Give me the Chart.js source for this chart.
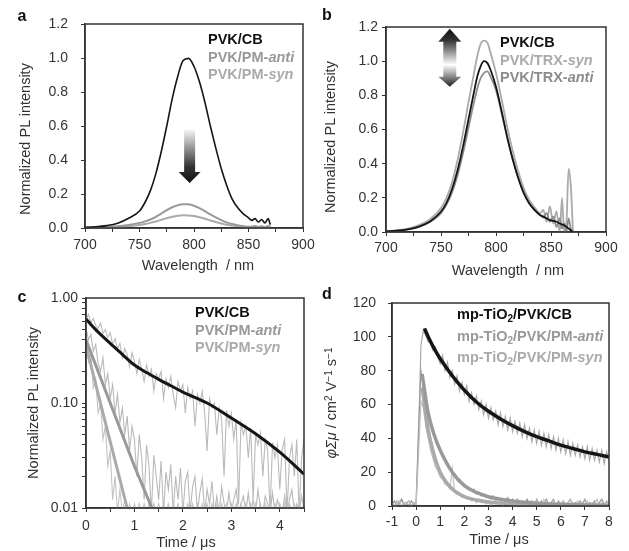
<!DOCTYPE html>
<html><head><meta charset="utf-8">
<script src="https://cdn.jsdelivr.net/npm/chart.js@4.4.1/dist/chart.umd.min.js"></script>
<style>
html,body{margin:0;padding:0;background:#fff;overflow:hidden;width:629px;height:551px;}
body{position:relative;font-family:"Liberation Sans",Arial,sans-serif;color:#333;}
.panel{position:absolute;}
.panel canvas{display:block;}
.lbl{position:absolute;font-weight:bold;font-size:16px;color:#111;transform:translate(-50%,-50%);}
.leg{position:absolute;font-weight:bold;font-size:14.5px;line-height:17.5px;white-space:nowrap;}
.ytitle{position:absolute;white-space:nowrap;font-size:14.5px;transform:translate(-50%,-50%) rotate(-90deg);}
.xtitle{position:absolute;white-space:nowrap;font-size:14.5px;transform:translate(-50%,-50%);}
.s{font-size:10px;vertical-align:4px;}
.u{font-size:10px;vertical-align:-3px;}
</style></head><body>
<div class="panel" style="left:0;top:0;width:315px;height:275px"><canvas id="ca" width="315" height="275"></canvas></div>
<div class="panel" style="left:315px;top:0;width:314px;height:280px"><canvas id="cb" width="314" height="280"></canvas></div>
<div class="panel" style="left:0;top:275px;width:315px;height:276px"><canvas id="cc" width="315" height="276"></canvas></div>
<div class="panel" style="left:315px;top:275px;width:314px;height:276px"><canvas id="cd" width="314" height="276"></canvas></div>

<div class="lbl" style="left:22px;top:16px">a</div>
<div class="lbl" style="left:327px;top:15px">b</div>
<div class="lbl" style="left:22px;top:297px">c</div>
<div class="lbl" style="left:327px;top:294px">d</div>

<div class="leg" style="left:208px;top:31px"><div style="color:#111">PVK/CB</div><div style="color:#999">PVK/PM-<i>anti</i></div><div style="color:#aaa">PVK/PM-<i>syn</i></div></div>
<div class="leg" style="left:500px;top:34px"><div style="color:#111">PVK/CB</div><div style="color:#aaa">PVK/TRX-<i>syn</i></div><div style="color:#8c8c8c">PVK/TRX-<i>anti</i></div></div>
<div class="leg" style="left:195px;top:304px"><div style="color:#111">PVK/CB</div><div style="color:#999">PVK/PM-<i>anti</i></div><div style="color:#aaa">PVK/PM-<i>syn</i></div></div>
<div class="leg" style="left:457px;top:306px"><div style="color:#111">mp-TiO<span class="u">2</span>/PVK/CB</div><div style="color:#999">mp-TiO<span class="u">2</span>/PVK/PM-<i>anti</i></div><div style="color:#aaa">mp-TiO<span class="u">2</span>/PVK/PM-<i>syn</i></div></div>

<div class="ytitle" style="left:25px;top:139px">Normalized PL intensity</div>
<div class="ytitle" style="left:330px;top:137px">Normalized PL intensity</div>
<div class="ytitle" style="left:33px;top:403px">Normalized PL intensity</div>
<div class="ytitle" style="left:331px;top:403px"><i>φΣμ</i> / cm<span class="s">2</span> V<span class="s">−1</span> s<span class="s">−1</span></div>
<div class="xtitle" style="left:198px;top:265px">Wavelength&nbsp; / nm</div>
<div class="xtitle" style="left:508px;top:270px">Wavelength&nbsp; / nm</div>
<div class="xtitle" style="left:186px;top:542px">Time / μs</div>
<div class="xtitle" style="left:499px;top:539px">Time / μs</div>

<script>
// ---------- Panel a : steady-state PL, PM ----------
const aWave = [700,710,720,730,740,750,755,760,765,770,775,780,785,790,795,800,805,810,815,820,825,830,835,840,845,850,853,856,859,862,865,868,870];
const aCB   = [0.004,0.007,0.014,0.028,0.057,0.10,0.15,0.22,0.32,0.45,0.60,0.76,0.89,0.985,0.998,0.95,0.86,0.74,0.60,0.47,0.35,0.25,0.17,0.12,0.085,0.06,0.045,0.055,0.035,0.05,0.03,0.055,0.02];
const aAnti = [0.003,0.004,0.006,0.010,0.018,0.030,0.039,0.050,0.066,0.085,0.105,0.122,0.134,0.140,0.139,0.131,0.117,0.099,0.080,0.062,0.046,0.033,0.023,0.016,0.011,0.008,0.007,0.012,0.006,0.010,0.005,0.012,0.008];
const aSyn  = [0.002,0.003,0.004,0.006,0.011,0.018,0.023,0.030,0.038,0.048,0.058,0.066,0.072,0.075,0.074,0.070,0.063,0.054,0.044,0.035,0.027,0.019,0.014,0.010,0.007,0.006,0.005,0.009,0.004,0.008,0.004,0.010,0.006];

// ---------- Panel b : steady-state PL, TRX ----------
const bWave = [700,710,720,730,740,750,755,760,765,770,775,780,783,786,789,792,795,800,805,810,815,820,825,830,835,840,843,846,849,852,855,858,860,862,864,866,868,870];
const bCB   = [0.004,0.008,0.016,0.032,0.062,0.12,0.17,0.25,0.36,0.50,0.66,0.82,0.91,0.97,1.0,0.99,0.95,0.85,0.71,0.56,0.43,0.32,0.23,0.17,0.13,0.10,0.09,0.08,0.07,0.065,0.06,0.05,0.045,0.04,0.03,0.02,0.01,0.0];
const bSyn  = [0.005,0.010,0.020,0.040,0.075,0.14,0.20,0.29,0.42,0.58,0.76,0.93,1.03,1.10,1.12,1.11,1.05,0.93,0.78,0.62,0.48,0.36,0.26,0.19,0.145,0.11,0.13,0.06,0.15,0.05,0.12,0.0,0.20,0.0,0.05,0.37,0.27,0.0];
const bAnti = [0.004,0.008,0.015,0.030,0.058,0.11,0.16,0.23,0.33,0.46,0.61,0.76,0.84,0.90,0.93,0.94,0.91,0.83,0.70,0.56,0.43,0.32,0.235,0.17,0.13,0.10,0.085,0.11,0.06,0.09,0.03,0.08,0.02,0.05,0.0,0.08,0.02,0.0];

// ---------- Panel c : time-resolved PL (log) ----------
const cTime = [0,0.05,0.1,0.15,0.2,0.25,0.3,0.35,0.4,0.45,0.5,0.55,0.6,0.65,0.7,0.75,0.8,0.85,0.9,0.95,1,1.05,1.1,1.15,1.2,1.25,1.3,1.35,1.4,1.45,1.5,1.55,1.6,1.65,1.7,1.75,1.8,1.85,1.9,1.95,2,2.05,2.1,2.15,2.2,2.25,2.3,2.35,2.4,2.45,2.5,2.55,2.6,2.65,2.7,2.75,2.8,2.85,2.9,2.95,3,3.05,3.1,3.15,3.2,3.25,3.3,3.35,3.4,3.45,3.5,3.55,3.6,3.65,3.7,3.75,3.8,3.85,3.9,3.95,4,4.05,4.1,4.15,4.2,4.25,4.3,4.35,4.4,4.45,4.5];
const cCB = [0.62,0.70,0.58,0.64,0.55,0.51,0.58,0.46,0.50,0.42,0.47,0.36,0.41,0.33,0.37,0.27,0.33,0.29,0.22,0.30,0.25,0.19,0.26,0.21,0.16,0.23,0.18,0.21,0.13,0.19,0.17,0.20,0.11,0.17,0.14,0.18,0.12,0.09,0.16,0.13,0.15,0.08,0.14,0.11,0.13,0.06,0.12,0.10,0.13,0.08,0.035,0.11,0.09,0.10,0.05,0.09,0.07,0.02,0.085,0.06,0.08,0.045,0.07,0.011,0.065,0.05,0.06,0.03,0.058,0.012,0.05,0.04,0.052,0.02,0.045,0.035,0.009,0.042,0.03,0.04,0.015,0.036,0.045,0.009,0.03,0.04,0.02,0.045,0.009,0.03,0.045];
const cAnti = [0.52,0.40,0.45,0.31,0.36,0.24,0.20,0.27,0.15,0.19,0.11,0.15,0.08,0.12,0.065,0.09,0.05,0.075,0.035,0.06,0.045,0.02,0.05,0.03,0.012,0.04,0.025,0.009,0.032,0.02,0.012,0.028,0.009,0.022,0.015,0.026,0.009,0.02,0.012,0.024,0.009,0.018,0.022,0.009,0.016,0.02,0.009,0.014,0.019,0.009,0.015,0.011,0.018,0.009,0.013,0.009,0.016,0.011,0.009,0.014,0.009,0.012,0.015,0.009,0.011,0.013,0.009,0.014,0.009,0.012,0.009,0.015,0.01,0.009,0.013,0.011,0.009,0.014,0.009,0.012,0.01,0.009,0.013,0.009,0.012,0.015,0.009,0.011,0.009,0.013,0.01];
const cSyn = [0.45,0.25,0.30,0.14,0.17,0.08,0.10,0.045,0.06,0.025,0.035,0.012,0.02,0.009,0.015,0.009,0.012,0.009,0.011,0.009,0.011,0.009,0.011,0.009,0.011,0.009,0.011,0.009,0.011,0.009,0.011,0.009,0.011,0.009,0.011,0.009,0.011,0.009,0.011,0.009,0.011,0.009,0.011,0.009,0.011,0.009,0.011,0.009,0.011,0.009,0.011,0.009,0.011,0.009,0.011,0.009,0.011,0.009,0.011,0.009,0.011,0.009,0.011,0.009,0.011,0.009,0.011,0.009,0.011,0.009,0.011,0.009,0.011,0.009,0.011,0.009,0.011,0.009,0.011,0.009,0.011,0.009,0.011,0.009,0.011,0.009,0.011,0.009,0.011,0.009,0.011];
const cCBFitT = [0,0.1,0.2,0.3,0.5,0.75,1,1.25,1.5,1.75,2,2.5,3,3.5,4,4.5];
const cCBFit  = [0.63,0.56,0.50,0.45,0.37,0.29,0.23,0.195,0.168,0.146,0.127,0.10,0.072,0.051,0.034,0.021];
const cAntiFitT = [0,0.5,1,1.36];
const cAntiFit  = [0.40,0.10,0.025,0.01];
const cSynFitT = [0,0.4,0.85];
const cSynFit  = [0.35,0.065,0.01];

// ---------- Panel d : TRMC ----------
const dTime = [-1,-0.9,-0.8,-0.7,-0.6,-0.5,-0.4,-0.3,-0.2,-0.1,0,0.1,0.2,0.3,0.4,0.5,0.6,0.7,0.8,0.9,1,1.1,1.2,1.3,1.4,1.5,1.6,1.7,1.8,1.9,2,2.1,2.2,2.3,2.4,2.5,2.6,2.7,2.8,2.9,3,3.1,3.2,3.3,3.4,3.5,3.6,3.7,3.8,3.9,4,4.1,4.2,4.3,4.4,4.5,4.6,4.7,4.8,4.9,5,5.1,5.2,5.3,5.4,5.5,5.6,5.7,5.8,5.9,6,6.1,6.2,6.3,6.4,6.5,6.6,6.7,6.8,6.9,7,7.1,7.2,7.3,7.4,7.5,7.6,7.7,7.8,7.9,8];
const dCB = [2,0,3,1,4,0,2,3,0,2,1,40,95,104,101,97,98,92,94,88,84,89,80,85,76,80,72,77,68,73,66,71,62,67,60,65,57,62,54,60,52,58,51,56,48,55,47,53,45,52,44,50,43,49,41,48,40,46,38,45,37,44,36,43,35,42,34,41,33,40,32,39,31,38,30,37,30,36,29,35,28,35,27,34,27,33,26,33,25,32,27];
const dAnti = [1,3,0,2,4,1,2,0,3,1,2,45,80,72,63,56,49,44,40,35,33,29,27,24,23,20,19,16,16,13,13,11,11,9,10,7,8,6,7,5,6,4,6,3,5,3,4,2,5,2,4,1,4,2,3,1,4,1,3,0,4,1,3,0,4,1,2,4,0,3,1,3,0,2,4,1,2,0,3,1,4,0,2,1,3,0,2,4,1,2,3];
const dSyn = [2,0,1,3,0,2,1,3,0,2,1,30,62,58,47,40,33,28,23,21,17,16,13,12,10,22,8,7,8,5,6,4,5,3,4,2,4,2,3,1,3,0,2,4,1,3,0,2,3,1,4,0,2,1,3,0,2,3,1,0,3,2,0,4,1,2,0,3,1,2,0,3,1,2,4,0,1,3,0,2,1,3,0,2,1,4,0,2,1,3,2];
const dCBFitT = [0.35,0.5,0.75,1,1.5,2,2.5,3,3.5,4,4.5,5,5.5,6,6.5,7,7.5,8];
const dCBFit  = [105,100,93,87,77,68.5,61.5,56,51.5,47.5,44,41,38.5,36,34,32,30.5,29];
const dAntiFitT = [0.25,0.5,0.75,1,1.5,2,2.5,3,4,5,6,7,8];
const dAntiFit  = [78,55,42,33,20,12,8,5.5,3,1.6,1,0.6,0.4];
const dSynFitT = [0.25,0.5,0.75,1,1.5,2,2.5,3,4,5,6,7,8];
const dSynFit  = [70,45,30,20,10,5.5,3.5,2.3,1.2,0.7,0.4,0.3,0.2];

// ---------- annotation arrows (data units) ----------
const arrowA = {x: 796, top: 0.58, tip: 0.265};
const arrowB = {x: 758, top: 1.19, bottom: 0.85};

const FONT = {family: '"Liberation Sans", Arial, sans-serif', size: 14};
const pts = (xs, ys) => xs.map((x, i) => ({x: x, y: ys[i]}));

const framePlugin = {
  id: 'frame',
  afterDraw(chart) {
    const {ctx, chartArea: a} = chart;
    ctx.save();
    ctx.strokeStyle = '#333';
    ctx.lineWidth = 1.5;
    ctx.strokeRect(a.left, a.top, a.right - a.left, a.bottom - a.top);
    ctx.restore();
  }
};

function ds(data, color, width, order, smooth) {
  return {data: data, borderColor: color, borderWidth: width, pointRadius: 0, fill: false,
          order: order, cubicInterpolationMode: smooth ? 'monotone' : 'default', tension: 0};
}

function makeChart(id, box, plot, xOpt, yOpt, datasets, plugins) {
  const tickGrid = {drawOnChartArea: false, drawTicks: true, tickLength: 4, color: '#333', lineWidth: 1};
  const xs = Object.assign({
    type: 'linear', position: 'bottom',
    grid: tickGrid, border: {display: true, color: '#333', width: 1.5},
    afterFit(s) { s.height = box.h - plot.b; s.paddingLeft = 0; s.paddingRight = 0; }
  }, xOpt);
  xs.ticks = Object.assign({font: FONT, color: '#333', autoSkip: false, maxRotation: 0}, xOpt.ticks);
  const ys = Object.assign({
    type: 'linear', position: 'left',
    grid: tickGrid, border: {display: true, color: '#333', width: 1.5},
    afterFit(s) { s.width = plot.l; s.paddingTop = 0; s.paddingBottom = 0; }
  }, yOpt);
  ys.ticks = Object.assign({font: FONT, color: '#333', autoSkip: false}, yOpt.ticks);
  return new Chart(document.getElementById(id), {
    type: 'line',
    data: {datasets: datasets},
    options: {
      responsive: false, animation: false, devicePixelRatio: 1,
      layout: {padding: {left: 0, top: plot.t, right: box.w - plot.r, bottom: 0}},
      plugins: {legend: {display: false}, tooltip: {enabled: false}},
      scales: {x: xs, y: ys}
    },
    plugins: [framePlugin].concat(plugins || [])
  });
}

const wlTicks = {stepSize: 25, padding: 5, callback: v => (v % 50 === 0 ? String(v) : '')};

// panel a
const arrowAPlugin = {
  id: 'arrowA',
  afterDatasetsDraw(chart) {
    const {ctx} = chart; const X = chart.scales.x, Y = chart.scales.y;
    const x = X.getPixelForValue(arrowA.x), y0 = Y.getPixelForValue(arrowA.top), y1 = Y.getPixelForValue(arrowA.tip);
    const sw = 5.5, hw = 11, hh = 11;
    const g = ctx.createLinearGradient(0, y0, 0, y1);
    g.addColorStop(0, '#f6f6f6'); g.addColorStop(0.7, '#333'); g.addColorStop(1, '#111');
    ctx.save(); ctx.fillStyle = g; ctx.beginPath();
    ctx.moveTo(x - sw, y0); ctx.lineTo(x + sw, y0); ctx.lineTo(x + sw, y1 - hh); ctx.lineTo(x + hw, y1 - hh);
    ctx.lineTo(x, y1); ctx.lineTo(x - hw, y1 - hh); ctx.lineTo(x - sw, y1 - hh); ctx.closePath(); ctx.fill(); ctx.restore();
  }
};
makeChart('ca', {w: 315, h: 275}, {l: 85, t: 24, r: 303, b: 228},
  {min: 700, max: 900, ticks: wlTicks},
  {min: 0, max: 1.2, ticks: {stepSize: 0.2, padding: 13, callback: v => v.toFixed(1)}},
  [ds(pts(aWave, aCB), '#151515', 1.6, 0, true),
   ds(pts(aWave, aAnti), '#999', 2, 1, true),
   ds(pts(aWave, aSyn), '#aaa', 2, 2, true)],
  [arrowAPlugin]);

// panel b
const arrowBPlugin = {
  id: 'arrowB',
  afterDatasetsDraw(chart) {
    const {ctx} = chart; const X = chart.scales.x, Y = chart.scales.y;
    const x = X.getPixelForValue(arrowB.x), y0 = Y.getPixelForValue(arrowB.top), y1 = Y.getPixelForValue(arrowB.bottom);
    const sw = 6.5, hw = 11.5, hh0 = 13, hh1 = 10;
    const g = ctx.createLinearGradient(0, y0, 0, y1);
    g.addColorStop(0, '#111'); g.addColorStop(0.2, '#333'); g.addColorStop(0.62, '#fff'); g.addColorStop(1, '#222');
    ctx.save(); ctx.fillStyle = g; ctx.beginPath();
    ctx.moveTo(x, y0); ctx.lineTo(x + hw, y0 + hh0); ctx.lineTo(x + sw, y0 + hh0); ctx.lineTo(x + sw, y1 - hh1);
    ctx.lineTo(x + hw, y1 - hh1); ctx.lineTo(x, y1); ctx.lineTo(x - hw, y1 - hh1); ctx.lineTo(x - sw, y1 - hh1);
    ctx.lineTo(x - sw, y0 + hh0); ctx.lineTo(x - hw, y0 + hh0); ctx.closePath(); ctx.fill(); ctx.restore();
  }
};
makeChart('cb', {w: 314, h: 280}, {l: 71, t: 27, r: 291, b: 232},
  {min: 700, max: 900, ticks: Object.assign({}, wlTicks, {padding: 4})},
  {min: 0, max: 1.2, ticks: {stepSize: 0.2, padding: 4, callback: v => v.toFixed(1)}},
  [ds(pts(bWave, bCB), '#151515', 1.8, 0, true),
   ds(pts(bWave, bSyn), '#aaa', 1.8, 2, true),
   ds(pts(bWave, bAnti), '#8c8c8c', 1.8, 1, true)],
  [arrowBPlugin]);

// panel c
makeChart('cc', {w: 315, h: 276}, {l: 86, t: 23, r: 304, b: 233},
  {min: 0, max: 4.5, ticks: {stepSize: 0.5, padding: 6, callback: v => (Math.abs(v - Math.round(v)) < 1e-6 ? String(Math.round(v)) : '')}},
  {type: 'logarithmic', min: 0.01, max: 1, ticks: {padding: 4, callback: v => ([0.01, 0.1, 1].some(t => Math.abs(v - t) < 1e-9) ? v.toFixed(2) : '')}},
  [ds(pts(cCBFitT, cCBFit), '#151515', 3, 0, true),
   ds(pts(cAntiFitT, cAntiFit), '#999', 3, 1, false),
   ds(pts(cSynFitT, cSynFit), '#aaa', 3, 2, false),
   ds(pts(cTime, cCB), '#bababa', 1.1, 5, false),
   ds(pts(cTime, cAnti), '#bababa', 1.1, 4, false),
   ds(pts(cTime, cSyn), '#c4c4c4', 1.1, 3, false)]);

// panel d
makeChart('cd', {w: 314, h: 276}, {l: 77, t: 28, r: 294, b: 231},
  {min: -1, max: 8, ticks: {stepSize: 1, padding: 4}},
  {min: 0, max: 120, ticks: {stepSize: 20, padding: 12}},
  [ds(pts(dCBFitT, dCBFit), '#151515', 3.5, 0, true),
   ds(pts(dAntiFitT, dAntiFit), '#999', 3.5, 1, true),
   ds(pts(dSynFitT, dSynFit), '#aaa', 3.5, 2, true),
   ds(pts(dTime, dCB), '#aaa', 1.2, 5, false),
   ds(pts(dTime, dAnti), '#999', 1.2, 4, false),
   ds(pts(dTime, dSyn), '#c0c0c0', 1.2, 3, false)]);
</script>
</body></html>
